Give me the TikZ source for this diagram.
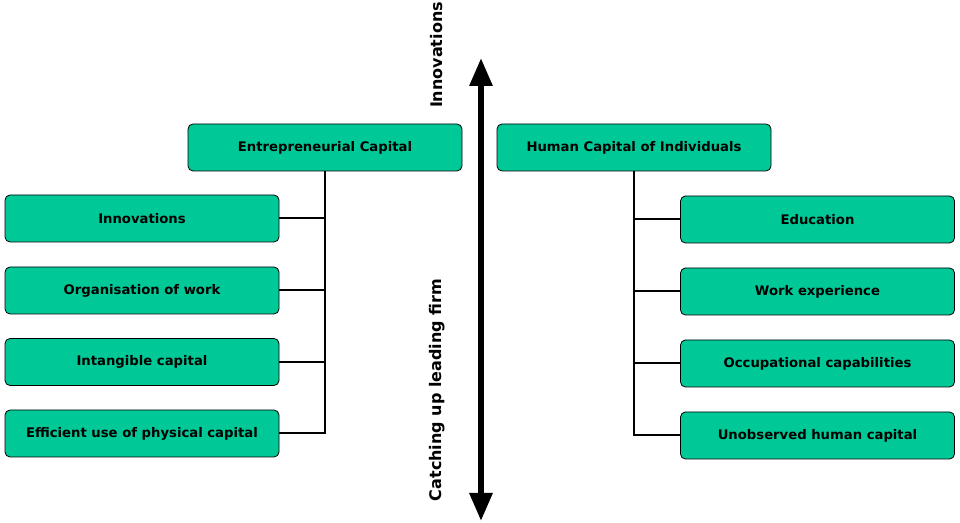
\documentclass[tikz,border=0pt]{standalone}
\usepackage{fontspec}
\setmainfont{DejaVu Sans}
\usetikzlibrary{arrows.meta, positioning}
\definecolor{boxgreen}{HTML}{00C896}

\begin{document}
\begin{tikzpicture}[x=0.5pt, y=-0.5pt,
			box/.style={draw, fill=boxgreen, rounded corners=2.5pt, minimum width=137pt,
				minimum height=23.5pt, font=\fontsize{6.6}{8}\selectfont\bfseries},
			tree/.style={line width=1pt}]
			
			\useasboundingbox (0,0) rectangle (960,523);
			
			% Kopfkaesten
			\node[box] (ent) at (325,147.5) {Entrepreneurial Capital};
			\node[box] (hum) at (634,147.5) {Human Capital of Individuals};
			
			% Linke Seite
			\node[box] (l1) at (142,218.5) {Innovations};
			\node[box] (l2) at (142,290.5) {Organisation of work};
			\node[box] (l3) at (142,362) {Intangible capital};
			\node[box] (l4) at (142,433.5) {Efficient use of physical capital};
			
			% Rechte Seite
			\node[box] (r1) at (817.5,219.5) {Education};
			\node[box] (r2) at (817.5,291.5) {Work experience};
			\node[box] (r3) at (817.5,363.5) {Occupational capabilities};
			\node[box] (r4) at (817.5,435.5) {Unobserved human capital};
			
			% Baumlinien
			\draw[tree] (ent.south) |- (l4.east);
			\foreach \n in {l1,l2,l3}
				\draw[tree] (\n.east) -- (\n.east -| ent.south);
			\draw[tree] (hum.south) |- (r4.west);
			\foreach \n in {r1,r2,r3}
				\draw[tree] (\n.west) -- (\n.west -| hum.south);
			
			% Achse
			\coordinate (top) at (481,58);
			\coordinate (bot) at (481,521);
			\draw[line width=3pt, {Triangle[length=14pt,width=11pt]}-{Triangle[length=14pt,width=11pt]}] (top) -- (bot);
			\node[rotate=90, font=\fontsize{8}{10}\selectfont\bfseries] (inno) at (437,55) {Innovations};
			\node[rotate=90, font=\fontsize{8}{10}\selectfont\bfseries] (catch) at (437,390) {Catching up leading firm};
\end{tikzpicture}
\end{document}
